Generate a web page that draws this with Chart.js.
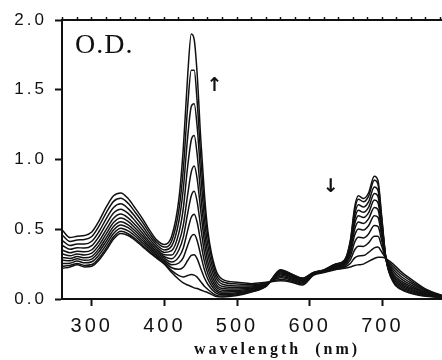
<!DOCTYPE html>
<html>
<head>
<meta charset="utf-8">
<script src="https://cdn.jsdelivr.net/npm/chart.js@4.4.1/dist/chart.umd.min.js"></script>
<style>
html,body{margin:0;padding:0;background:#fff;overflow:hidden;}
#wrap{width:492px;height:360px;}
</style>
</head>
<body>
<div id="wrap"><canvas id="c" width="492" height="360"></canvas></div>
<script>
const wavelength = [260,270,280,290,300,310,320,330,340,350,360,370,380,390,400,410,420,426,432,437,441,445,450,455,460,470,480,500,520,540,560,575,590,605,620,635,648,656,662,667,674,681,689,694,699,705,715,725,740,760,785];

const od_t0 = [.22,.23,.245,.23,.235,.28,.35,.43,.47,.455,.42,.375,.33,.29,.25,.19,.14,.115,.10,.09,.08,.075,.065,.055,.045,.02,.015,.025,.05,.09,.21,.18,.15,.19,.21,.25,.28,.42,.66,.74,.72,.76,.88,.85,.60,.29,.12,.07,.04,.02,.01];
const od_t1 = [.234,.241,.255,.241,.247,.294,.366,.446,.485,.468,.432,.385,.338,.297,.257,.203,.168,.158,.168,.176,.171,.157,.124,.092,.068,.030,.021,.030,.053,.092,.206,.177,.148,.189,.209,.248,.277,.411,.639,.715,.697,.736,.851,.823,.585,.29,.127,.077,.045,.023,.011];
const od_t2 = [.255,.257,.272,.259,.267,.316,.390,.470,.508,.489,.450,.401,.351,.307,.268,.224,.213,.227,.276,.312,.317,.289,.219,.152,.104,.046,.031,.037,.058,.094,.200,.172,.144,.187,.207,.245,.272,.395,.605,.676,.659,.696,.803,.779,.561,.29,.137,.087,.053,.027,.011];
const od_t3 = [.277,.274,.288,.277,.286,.339,.415,.495,.531,.511,.468,.417,.364,.317,.279,.245,.258,.297,.384,.449,.462,.420,.314,.211,.141,.062,.041,.045,.063,.096,.193,.167,.140,.186,.206,.242,.267,.380,.572,.636,.621,.657,.756,.735,.537,.29,.147,.097,.061,.031,.012];
const od_t4 = [.298,.291,.304,.295,.306,.361,.440,.520,.554,.532,.487,.433,.376,.328,.291,.265,.302,.366,.492,.586,.608,.552,.409,.271,.177,.078,.051,.053,.067,.099,.187,.163,.136,.184,.204,.238,.263,.365,.538,.596,.584,.618,.709,.691,.513,.29,.158,.108,.069,.035,.013];
const od_t5 = [.323,.310,.323,.316,.328,.386,.468,.548,.580,.556,.507,.451,.391,.339,.303,.289,.353,.444,.613,.740,.772,.700,.515,.338,.218,.096,.063,.061,.073,.101,.180,.157,.131,.182,.202,.235,.257,.348,.500,.552,.541,.574,.656,.641,.486,.29,.169,.119,.078,.039,.014];
const od_t6 = [.350,.331,.343,.338,.353,.414,.499,.579,.609,.582,.530,.471,.407,.352,.317,.315,.409,.530,.748,.911,.954,.865,.634,.413,.263,.116,.075,.071,.079,.104,.172,.151,.126,.180,.200,.231,.251,.329,.458,.502,.494,.525,.597,.586,.456,.29,.182,.132,.088,.044,.015];
const od_t7 = [.382,.356,.368,.365,.382,.448,.536,.616,.644,.614,.558,.495,.426,.368,.334,.346,.476,.650,.950,1.140,1.172,1.040,.750,.490,.318,.140,.090,.082,.086,.108,.162,.144,.120,.178,.198,.226,.244,.306,.408,.443,.438,.466,.526,.520,.420,.29,.198,.148,.100,.050,.016];
const od_t8 = [.417,.383,.395,.394,.414,.484,.576,.656,.682,.648,.588,.521,.447,.385,.352,.380,.560,.790,1.160,1.380,1.400,1.240,.890,.580,.377,.166,.106,.094,.094,.112,.152,.136,.114,.175,.195,.221,.236,.281,.353,.379,.377,.402,.449,.449,.381,.29,.215,.165,.113,.057,.017];
const od_t9 = [.455,.413,.423,.426,.448,.524,.620,.700,.722,.686,.620,.549,.469,.403,.372,.416,.640,.930,1.380,1.640,1.640,1.420,1.020,.680,.441,.194,.124,.108,.102,.116,.140,.128,.107,.173,.193,.215,.228,.255,.295,.309,.311,.334,.367,.372,.339,.29,.233,.183,.127,.064,.019];
const od_t10 = [.49,.44,.45,.455,.48,.56,.66,.74,.76,.72,.65,.575,.49,.42,.39,.45,.72,1.08,1.60,1.90,1.86,1.62,1.15,.76,.48,.22,.14,.12,.11,.12,.13,.12,.10,.17,.19,.21,.22,.23,.24,.245,.25,.27,.29,.30,.30,.29,.25,.20,.14,.07,.02];

const xTicks = [300,400,500,600,700];
const yTicks = [0.0,0.5,1.0,1.5,2.0];
const xTitle = 'wavelength  (nm)';
const odLabel = 'O.D.';
const upArrow = '↑', downArrow = '↓';

const series = [od_t0,od_t1,od_t2,od_t3,od_t4,od_t5,od_t6,od_t7,od_t8,od_t9,od_t10];
const datasets = series.map(s => ({
  data: s.map((v,i) => ({x: wavelength[i], y: v})),
  borderColor: '#111',
  borderWidth: 1.5,
  pointRadius: 0,
  fill: false,
  tension: 0.4,
  cubicInterpolationMode: 'monotone'
}));

const textPlugin = {
  id: 'textPlugin',
  beforeDraw(chart) { chart.ctx.letterSpacing = '3px'; },
  afterDraw(chart) {
    const ctx = chart.ctx, xs = chart.scales.x, ys = chart.scales.y, a = chart.chartArea;
    ctx.save();
    ctx.fillStyle = '#111';
    ctx.letterSpacing = '1px';
    ctx.font = '28px "Liberation Serif"';
    ctx.textAlign = 'left';
    ctx.textBaseline = 'alphabetic';
    ctx.fillText(odLabel, a.left + 13, a.top + 33);
    ctx.letterSpacing = '0px';
    ctx.font = 'bold 19px "DejaVu Sans"';
    ctx.textAlign = 'center';
    ctx.textBaseline = 'middle';
    ctx.fillText(upArrow, xs.getPixelForValue(469), ys.getPixelForValue(1.53));
    ctx.fillText(downArrow, xs.getPixelForValue(629), ys.getPixelForValue(0.80));
    ctx.restore();
  }
};

new Chart(document.getElementById('c'), {
  type: 'line',
  data: { datasets },
  plugins: [textPlugin],
  options: {
    responsive: false,
    animation: false,
    devicePixelRatio: 1,
    layout: { padding: 0 },
    plugins: { legend: { display: false }, tooltip: { enabled: false } },
    scales: {
      x: {
        type: 'linear', position: 'bottom', min: 259, max: 851,
        afterBuildTicks: s => { s.ticks = xTicks.map(v => ({value: v})); },
        afterFit: s => { s.height = 61; },
        ticks: { color: '#111', font: { family: 'Liberation Sans', size: 20 }, padding: 8, maxRotation: 0, autoSkip: false },
        grid: { drawOnChartArea: false, drawTicks: true, tickLength: 7, color: '#111', tickWidth: 2 },
        border: { display: true, color: '#111', width: 2 },
        title: { display: true, text: xTitle, color: '#111', font: { family: 'Liberation Serif', size: 16, weight: 'bold' }, padding: { top: 0, bottom: 1 } }
      },
      xTop: {
        type: 'linear', position: 'top', min: 259, max: 851,
        afterBuildTicks: s => { const t = []; for (let v = 260; v <= 840; v += 20) t.push({value: v}); s.ticks = t; },
        afterFit: s => { s.height = 20; },
        ticks: { display: false },
        grid: { drawOnChartArea: false, drawTicks: true, tickLength: 3, color: '#111', tickWidth: 1.5 },
        border: { display: true, color: '#111', width: 2 }
      },
      y: {
        type: 'linear', position: 'left', min: 0, max: 2,
        afterBuildTicks: s => { s.ticks = yTicks.map(v => ({value: v})); },
        afterFit: s => { s.width = 62; },
        ticks: { color: '#111', font: { family: 'Liberation Sans', size: 17 }, padding: 8, callback: v => v.toFixed(1) },
        grid: { drawOnChartArea: false, drawTicks: true, tickLength: 7, color: '#111', tickWidth: 2 },
        border: { display: true, color: '#111', width: 2 }
      }
    }
  }
});
</script>
</body>
</html>
